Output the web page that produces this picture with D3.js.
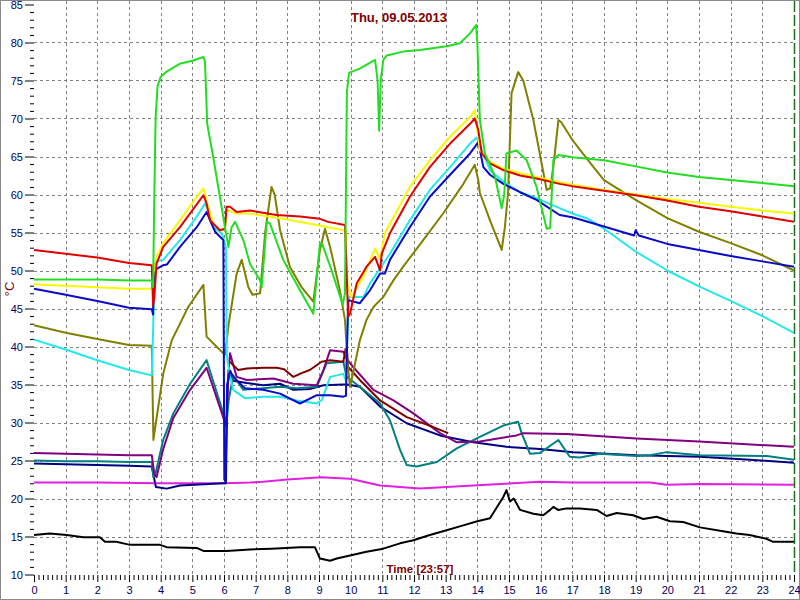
<!DOCTYPE html>
<html><head><meta charset="utf-8">
<script src="https://cdn.jsdelivr.net/npm/d3@7"></script>
<style>
html,body{margin:0;padding:0;background:#fff;}
svg{display:block;font-family:"Liberation Sans",Arial,sans-serif;}
</style></head>
<body><svg id="c" width="800" height="600"></svg>
<script>
const title = "Thu, 09.05.2013";
const xTitle = "Time [23:57]";
const yTitle = "°C";
const xTicks = d3.range(0, 25, 1);
const yTicks = [10,15,20,25,30,35,40,45,50,55,60,65,70,75,80,85];

const green = [[0,48.8],[1,48.8],[2,48.8],[3,48.7],[3.72,48.7],[3.76,47.8],[3.8,60],[3.84,70],[3.9,74.2],[4.0,75.5],[4.2,76.2],[4.6,77.2],[5.0,77.6],[5.35,78.1],[5.4,77.5],[5.47,69.3],[5.66,64.9],[5.87,59.7],[6.03,55.7],[6.14,53.1],[6.24,55.7],[6.35,56.4],[6.61,54],[6.82,50.9],[7.14,48.7],[7.19,47.8],[7.35,56.4],[7.45,56.2],[7.87,51.4],[8.4,47.4],[8.82,44.3],[9.03,53.6],[9.1,53.5],[9.4,50],[9.75,45.5],[9.82,47],[9.85,60],[9.88,73.5],[9.95,76],[10.3,76.6],[10.77,77.7],[10.85,75],[10.9,68.4],[10.95,75],[11.03,77.7],[11.14,78.3],[11.66,78.8],[12.19,79],[13.03,79.5],[13.45,79.9],[13.77,81.2],[13.96,82.3],[14.0,80],[14.08,69.8],[14.24,65.4],[14.56,62.3],[14.77,58.2],[14.85,60],[14.92,65.4],[15.24,65.8],[15.56,64.5],[15.87,61],[16.19,55.5],[16.3,55.6],[16.4,64.5],[16.56,65.2],[17,64.9],[18,64.5],[19,63.7],[20,62.9],[21,62.3],[22,61.9],[23,61.5],[24,61.1]];
const yellow = [[0,48.2],[1,48.0],[2,47.8],[3,47.6],[3.72,47.6],[3.77,49.6],[3.87,51.8],[4.08,53.6],[4.61,56.6],[5.14,59.7],[5.35,60.8],[5.5,58.4],[5.66,56.2],[5.87,55.3],[6.03,55.3],[6.08,58],[6.4,57.5],[6.82,57.5],[7.87,56.8],[8.93,56],[9.77,55.3],[9.85,55.2],[9.9,48],[10.03,46.5],[10.4,49.2],[10.77,52.9],[10.93,51.4],[11.08,54.9],[11.87,61],[12.5,64.5],[13.14,67.6],[13.77,70.2],[13.92,71.1],[14.08,65.8],[14.4,64.3],[14.82,63.4],[15.35,62.8],[15.87,62.3],[16.6,61.6],[17,61.3],[18,60.6],[19,60.0],[20,59.4],[21,58.9],[22,58.4],[23,57.9],[24,57.5]];
const red = [[0,52.7],[1,52.2],[2,51.7],[3,51.0],[3.72,50.7],[3.76,45.4],[3.8,46.5],[3.87,50.9],[4.08,53.1],[4.61,55.7],[5.35,59.9],[5.45,58.8],[5.56,56.6],[5.87,55.3],[6.03,55.5],[6.08,58.4],[6.19,58.4],[6.4,57.7],[6.82,57.9],[7.66,57.3],[8.4,57.1],[9.03,56.8],[9.29,56.4],[9.82,56.0],[9.87,50],[9.92,43.9],[9.98,44.3],[10.19,48.3],[10.5,50.5],[10.77,51.8],[10.93,50],[10.98,52.2],[11.24,54.9],[11.87,59.7],[12.5,63.6],[13.14,66.7],[13.77,69.3],[13.92,70],[14.03,68.5],[14.14,65.4],[14.4,64.1],[14.82,63.2],[15.35,62.5],[15.87,62.1],[16.6,61.4],[17,61.1],[18,60.5],[19,59.9],[20,59.2],[21,58.4],[22,57.8],[23,57.1],[24,56.4]];
const cyan = [[0,40.9],[1,39.6],[2,38.2],[3,36.9],[3.72,36.2],[3.76,42],[3.8,49],[3.84,51.2],[4.08,51.4],[4.61,54],[5.14,57.1],[5.4,58.8],[5.5,58],[5.66,55.7],[5.93,54.9],[6.06,53.1],[6.09,38.6],[6.2,36],[6.29,34.3],[6.66,33.2],[7.24,33.4],[7.77,33.4],[8.29,32.9],[8.93,32.5],[9.1,33],[9.35,36],[9.77,36.4],[9.85,35.5],[9.9,42],[9.95,46.5],[10.4,46.5],[10.61,48.3],[10.93,50.3],[11.24,52.2],[11.87,56.6],[12.5,60.6],[13.14,63.6],[13.77,66.7],[13.98,67.5],[14.14,65.8],[14.4,63.2],[14.82,61.7],[15.35,60.3],[15.87,59.5],[16.6,58.2],[17,57.5],[17.5,56.8],[18,55.5],[19,52.5],[20,50],[21,47.9],[22,46],[23,44],[24,41.8]];
const blue = [[0,47.6],[1,46.8],[2,46],[3,45.1],[3.72,44.9],[3.76,44.2],[3.79,50],[4.08,50.7],[4.2,50.8],[4.61,53.1],[5.14,55.7],[5.45,57.7],[5.56,56.6],[5.72,55.1],[5.98,54],[6.01,22.5],[6.05,22.3],[6.1,35],[6.2,36.8],[6.29,36],[6.66,34.5],[7.24,34.3],[7.77,33.8],[8.4,32.5],[8.93,33.6],[9.35,33.6],[9.77,33.4],[9.85,33.5],[9.92,46.1],[10.29,45.7],[10.61,47.4],[10.93,49.6],[11.08,49.6],[11.24,51.4],[11.87,55.7],[12.5,59.7],[13.14,62.6],[13.77,65.4],[14.03,66.9],[14.19,63.6],[14.4,62.6],[14.82,61.4],[15.35,60.3],[15.87,59.3],[16.6,57.3],[17,57],[18,55.8],[18.95,54.6],[19.0,55.3],[19.1,54.6],[20,53.5],[21,52.7],[22,51.9],[23,51.2],[24,50.5]];
const olive = [[0,42.8],[1,41.8],[2,41],[3,40.2],[3.72,40.1],[3.77,27.7],[3.85,30],[4.08,36.4],[4.35,40.8],[4.87,45.2],[5.35,48.1],[5.45,41.3],[5.76,40],[6.03,38.9],[6.15,43],[6.4,49.6],[6.56,51.4],[6.77,47.8],[6.9,46.8],[7.14,47],[7.3,55],[7.5,61],[7.6,60],[7.77,55.3],[8.08,50.5],[8.45,47.8],[8.82,45.9],[9.03,52.7],[9.19,55.5],[9.35,53.1],[9.66,47.4],[9.82,43.5],[9.9,38],[9.98,34.7],[10.1,37],[10.29,40.8],[10.5,43.5],[10.72,45.2],[10.93,46.1],[11.03,46.5],[11.35,48.7],[11.66,50.5],[12.29,54],[12.92,57.5],[13.56,61.4],[13.92,63.9],[14.03,61.9],[14.08,60.2],[14.4,56.6],[14.77,52.7],[14.87,55.7],[14.97,60.2],[15.08,73.3],[15.29,76.1],[15.45,75],[15.77,69.8],[16.19,60.6],[16.3,60.8],[16.4,63.6],[16.56,69.8],[16.65,69.5],[17,67.2],[17.5,64.5],[18,61.9],[19,59.3],[20,56.9],[21,55.1],[22,53.6],[23,52],[24,50]];
const maroon = [[6.2,38],[6.3,37.5],[6.45,36.9],[6.72,37.1],[7.24,37.2],[7.66,37.2],[7.9,37],[8.19,36],[8.45,36.5],[8.71,36.9],[9.08,38],[9.35,38.2],[9.77,38],[9.84,39.7],[9.88,39.7],[9.92,37.3],[10.29,35.6],[10.93,32.9],[11.77,30.7],[12.61,29.4],[13.08,28.6]];
const purple = [[0,26],[1,25.9],[2,25.8],[3,25.7],[3.72,25.7],[3.8,23.2],[3.87,22.8],[4.08,26.5],[4.4,30.6],[4.93,34.3],[5.45,37.2],[6.08,29.4],[6.12,35],[6.19,39.1],[6.4,36],[6.72,35.6],[7.56,35.8],[8.19,35.1],[8.93,34.9],[9.14,36.9],[9.35,39.5],[9.77,39.3],[9.85,38.5],[10.1,37.2],[10.72,34.3],[11.35,32.9],[11.98,31.2],[12.82,28.6],[13.35,27.4],[14.08,27.5],[15.24,28.3],[15.45,28.6],[16.82,28.5],[19.03,27.9],[21,27.5],[24,26.8]];
const teal = [[0,25],[1,24.9],[2,24.9],[3,24.8],[3.72,24.8],[3.77,22.8],[3.82,23],[4.08,27.7],[4.4,31.2],[4.93,35.1],[5.45,38.2],[6.08,29.9],[6.15,33],[6.29,36.2],[6.61,34.3],[7.24,34.5],[7.77,34.7],[8.29,34.5],[8.93,34.7],[9.24,37.8],[9.77,38],[9.87,36],[10.29,34.7],[10.93,32.5],[11.24,30.3],[11.56,26.4],[11.77,24.4],[12.08,24.2],[12.72,24.8],[13.35,26.6],[14.08,28.1],[14.82,29.6],[15.29,30.1],[15.4,28.6],[15.66,25.9],[15.98,26],[16.56,27.7],[16.92,25.5],[17.24,25.4],[17.87,25.9],[19.03,25.6],[19.45,25.7],[19.98,26.1],[21.03,25.7],[23.14,25.6],[24,25.1]];
const navy = [[0,24.6],[1,24.5],[2,24.4],[3,24.3],[3.72,24.2],[3.85,21.5],[4.19,21.3],[4.61,21.7],[5.98,22],[6.06,22],[6.1,33],[6.15,37],[6.29,35.5],[6.72,35.2],[7.24,34.9],[7.77,35.1],[8.19,34.3],[8.71,34.4],[9.14,34.9],[9.77,35],[9.9,35],[10.29,34.7],[10.93,32.1],[11.77,29.9],[12.82,28.3],[13.87,27.4],[14.92,26.8],[15.98,26.5],[17.03,26.1],[18.08,25.9],[19.03,25.7],[21.03,25.5],[22.6,25.1],[24,24.7]];
const magenta = [[0,22.1],[2,22.1],[4,22],[6,22],[6.82,22.1],[7.24,22.2],[8,22.5],[9.08,22.8],[9.5,22.7],[9.98,22.6],[10.93,21.7],[12.19,21.3],[13.87,21.7],[15.98,22.2],[17,22.1],[19.45,22.1],[19.98,21.8],[21,21.9],[24,21.8]];
const black = [[0,15.2],[0.5,15.4],[1.03,15.2],[1.56,14.9],[2.08,14.9],[2.24,14.3],[2.6,14.3],[3.03,13.9],[3.98,13.9],[4.19,13.6],[5.14,13.5],[5.35,13.1],[6.08,13.1],[6.82,13.3],[7.5,13.4],[8.4,13.6],[8.87,13.6],[9.03,12.1],[9.35,11.8],[9.56,12.1],[9.98,12.5],[10.5,13],[11.03,13.4],[11.56,14.1],[11.98,14.5],[12.5,15.2],[13,15.8],[13.5,16.4],[14,17],[14.4,17.4],[14.82,20.2],[14.92,21.1],[15.03,19.6],[15.15,20],[15.35,18.5],[15.77,18],[16.08,17.8],[16.3,18.5],[16.4,18.9],[16.55,18.5],[16.82,18.7],[17.24,18.7],[17.77,18.5],[18.08,17.7],[18.4,18.1],[18.92,17.8],[19.24,17.3],[19.66,17.6],[20.08,17],[20.5,16.9],[21.03,16.2],[21.76,15.7],[22.18,15.4],[22.6,15.2],[23.13,14.7],[23.34,14.3],[24,14.3]];

const seriesList = [
  {data: black, color: "#000000"},
  {data: magenta, color: "#e020e0"},
  {data: navy, color: "#000080"},
  {data: teal, color: "#008080"},
  {data: purple, color: "#800080"},
  {data: maroon, color: "#800000"},
  {data: olive, color: "#808000"},
  {data: cyan, color: "#22e8e8"},
  {data: blue, color: "#0a0ac8"},
  {data: yellow, color: "#f8f800"},
  {data: red, color: "#e00000"},
  {data: green, color: "#22dd22"}
];

const svg = d3.select("#c");
const x = d3.scaleLinear().domain([0, 24]).range([34, 794]);
const y = d3.scaleLinear().domain([10, 85]).range([574.5, 4.5]);

// frame
svg.append("rect").attr("x",0.5).attr("y",0.5).attr("width",799).attr("height",599)
  .attr("fill","#fff").attr("stroke","#8a8a8a").attr("stroke-width",1);

// grid
const grid = svg.append("g");
xTicks.filter(h => h > 0 && h < 24).forEach(h => {
  const px = Math.round(x(h)) + 0.5;
  grid.append("line").attr("x1",px).attr("x2",px).attr("y1",1).attr("y2",575)
    .attr("stroke","#808080").attr("stroke-dasharray","3,3");
});
yTicks.filter(v => v > 10 && v < 85).forEach(v => {
  const py = Math.round(y(v)) + 0.5;
  grid.append("line").attr("x1",34).attr("x2",794).attr("y1",py).attr("y2",py)
    .attr("stroke","#808080").attr("stroke-dasharray","3,3");
});

// current time marker
svg.append("line").attr("x1",Math.round(x(24))+0.5).attr("x2",Math.round(x(24))+0.5)
  .attr("y1",1).attr("y2",575).attr("stroke","#1b6e1b").attr("stroke-width",1.5)
  .attr("stroke-dasharray","11,3");

// axes
const axisColor = "#000060";
const yMinor = d3.range(10, 86, 1).filter(v => v % 5 !== 0);
const gyMinor = svg.append("g").attr("transform","translate(34,0)")
  .call(d3.axisLeft(y).tickValues(yMinor).tickSize(4).tickFormat(""));
const gy = svg.append("g").attr("transform","translate(34,0)")
  .call(d3.axisLeft(y).tickValues(yTicks).tickSize(9).tickPadding(2).tickFormat(d3.format("d")));
const xMinor = [];
for (let h = 0; h < 24; h++) for (let k = 1; k < 7; k++) xMinor.push(h + k/7);
const gxMinor = svg.append("g").attr("transform","translate(0,575)")
  .call(d3.axisBottom(x).tickValues(xMinor).tickSize(5).tickFormat(""));
const gx = svg.append("g").attr("transform","translate(0,575)")
  .call(d3.axisBottom(x).tickValues(xTicks).tickSize(7).tickPadding(4).tickFormat(d3.format("d")));
[gy, gyMinor, gx, gxMinor].forEach(g => {
  g.select(".domain").remove();
  g.selectAll("line").attr("stroke", "#000");
  g.selectAll("text").attr("fill", axisColor).style("font-size","11px")
    .style("font-family","'Liberation Sans',Arial,sans-serif");
});

// lines
const line = d3.line().x(d => x(d[0])).y(d => y(d[1]));
const lg = svg.append("g");
seriesList.forEach(s => {
  lg.append("path").datum(s.data).attr("d", line).attr("fill","none")
    .attr("stroke", s.color).attr("stroke-width", 2).attr("stroke-linejoin","round");
});

// texts
svg.append("text").attr("x",399).attr("y",22).attr("text-anchor","middle")
  .attr("fill","#800000").style("font-weight","bold").style("font-size","13px").text(title);
svg.append("text").attr("x",420).attr("y",573).attr("text-anchor","middle")
  .attr("fill","#800000").style("font-weight","bold").style("font-size","11.5px").text(xTitle);
svg.append("text").attr("transform","translate(14,289) rotate(-90)").attr("text-anchor","middle")
  .attr("fill","#800000").style("font-size","13px").text(yTitle);
</script></body></html>
